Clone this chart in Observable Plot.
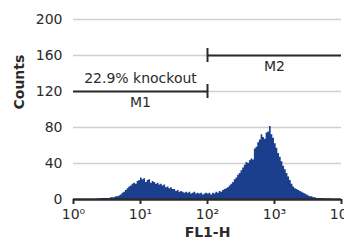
<!DOCTYPE html>
<html>
<head>
<meta charset="utf-8">
<script src="https://cdn.jsdelivr.net/npm/d3@7"></script>
<script src="https://cdn.jsdelivr.net/npm/@observablehq/plot@0.6"></script>
<style>
  html, body { margin: 0; padding: 0; background: #fff; }
  #chart svg { display: block; }
</style>
</head>
<body>
<div id="chart"></div>
<script>
// Histogram: log10 bins of width 0.025 decade starting at 10^0
const binStartLog = 0;
const binWidthLog = 0.025;
const counts = [
  0,0,0,0,0,0,0,0,0,0,0,0,0,0,0.5,0.5,
  1,1,1,1, 1,1,2,2, 2,3,3,4, 5,7,8,10,
  12,14,15,17, 18,17,20,21, 24,22,23,19, 21,22,18,20,
  19,17,18,16, 17,15,16,13, 14,12,13,11, 11,9,10,8,
  9,8,7,8, 7,8,6,7, 8,6,7,6, 7,5,6,7,
  6,7,5,7, 6,8,7,9, 8,10,11,12, 13,15,17,19,
  22,24,27,29, 32,35,38,41, 40,43,45,44, 56,58,63,66,
  72,69,67,74, 75,81,72,68, 62,57,51,47, 42,37,33,29,
  25,21,17,14, 12,11,10,9, 8,7,6,5, 4,3,3,2,
  2,1,1,1, 1,1,0.5,0.5, 0.5,0.5,0,0,0,0,0,0
];
const yTicks = [0, 40, 80, 120, 160, 200];
const xTicks = [1, 10, 100, 1000, 10000];
const xTickLabels = ["10⁰", "10¹", "10²", "10³", "10⁴"];
const markers = [
  {name: "M1", from: 1, to: 100, level: 120, labelAt: 10},
  {name: "M2", from: 100, to: 10000, level: 160, labelAt: 1000}
];
const gateBoundary = 100;
const annotation = {text: "22.9% knockout", at: 10, level: 120};
const xLabel = "FL1-H";
const yLabel = "Counts";

// step outline: each bin start with its count, plus closing edge
const steps = counts.map((c, i) => ({x: Math.pow(10, binStartLog + i * binWidthLog), y: c}));
steps.push({x: Math.pow(10, binStartLog + counts.length * binWidthLog), y: counts[counts.length - 1]});

const ink = "#2b2b2b";
const font = "'DejaVu Sans', Verdana, sans-serif";
const chart = Plot.plot({
  width: 344,
  height: 244,
  marginLeft: 73,
  marginRight: 3,
  marginTop: 19,
  marginBottom: 45,
  style: {fontFamily: font, fontSize: "14px", color: ink, background: "#fff"},
  x: {type: "log", domain: [1, 10000]},
  y: {domain: [0, 200]},
  marks: [
    Plot.ruleY(yTicks.filter(d => d > 0), {stroke: "#cfcfcf", strokeWidth: 1.5}),
    Plot.areaY(steps, {x: "x", y: "y", curve: "step-after", fill: "#1b3f8c"}),
    Plot.ruleY([0], {stroke: ink, strokeWidth: 2.5}),
    Plot.axisY({ticks: yTicks, tickSize: 0, tickPadding: 11, label: null, fill: ink, fontSize: 14}),
    Plot.axisX({ticks: xTicks, tickFormat: d => xTickLabels[xTicks.indexOf(d)], tickSize: 5, tickPadding: 5, stroke: ink, strokeWidth: 2, label: null, fill: ink, fontSize: 14}),
    // marker lines
    Plot.ruleY(markers, {x1: "from", x2: "to", y: "level", stroke: ink, strokeWidth: 2}),
    Plot.ruleX(markers, {x: () => gateBoundary, y1: "level", y2: "level", insetTop: -7, insetBottom: -7, stroke: ink, strokeWidth: 2}),
    Plot.text(markers, {x: "labelAt", y: "level", text: "name", dy: 11, fill: ink, fontSize: 14}),
    Plot.text([annotation], {x: "at", y: "level", text: "text", dy: -13, fill: ink, fontSize: 14}),
    Plot.text([xLabel], {frameAnchor: "bottom", dy: 37, fontWeight: "bold", fill: ink, fontSize: 14}),
    Plot.text([yLabel], {frameAnchor: "left", dx: -54, rotate: -90, fontWeight: "bold", fill: ink, fontSize: 14})
  ]
});
document.getElementById("chart").appendChild(chart);
</script>
</body>
</html>
